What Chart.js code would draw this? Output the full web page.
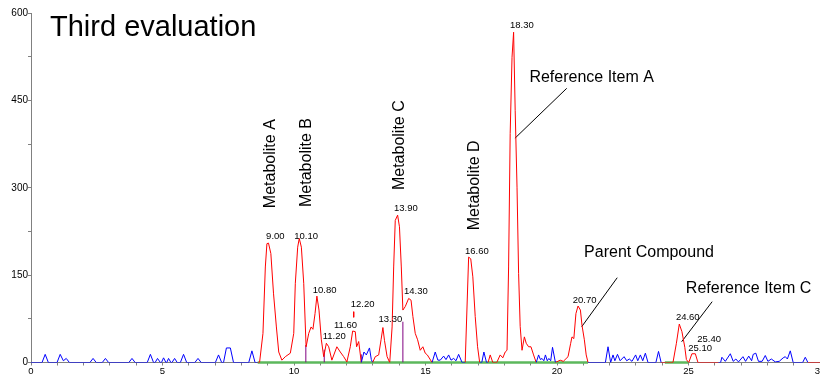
<!DOCTYPE html>
<html><head><meta charset="utf-8">
<script src="https://cdn.jsdelivr.net/npm/chart.js@4.4.1/dist/chart.umd.min.js"></script>
<style>html,body{margin:0;padding:0;background:#fff;}#wrap{width:820px;height:376px;}</style>
</head><body><div id="wrap"><canvas id="c" width="820" height="376"></canvas></div>
<script>
// ---- data (time in min, counts) ----
const times = [
  0,0.42,0.54,0.66,0.99,1.11,1.23,1.34,1.46,2.24,2.36,2.48,2.71,2.83,2.95,
  3.72,3.84,3.96,4.42,4.54,4.66,4.72,4.81,4.92,4.96,5.04,5.13,5.16,5.23,5.32,5.36,5.46,5.56,5.68,5.80,5.92,
  6.23,6.35,6.47,7.01,7.13,7.25,7.32,7.43,7.58,7.70,8.28,8.40,8.52,8.62,
  8.69,8.82,8.91,8.97,9.03,9.12,9.22,9.33,9.42,9.54,9.67,9.86,9.99,10.05,10.14,10.20,10.28,10.37,10.46,
  10.56,10.65,10.72,10.80,10.87,10.95,11.04,11.13,11.23,11.32,11.44,11.63,11.76,11.89,12.01,12.14,12.23,12.33,12.38,12.46,12.56,
  12.66,12.75,12.87,12.94,12.99,
  13.09,13.22,13.31,13.38,13.44,13.54,13.64,13.73,13.79,13.85,13.94,14.01,14.08,14.14,14.23,
  14.36,14.45,14.52,14.61,14.70,14.80,14.90,14.99,15.07,15.25,
  15.37,15.47,15.56,15.69,15.78,15.88,15.97,16.07,16.16,16.26,16.39,16.51,
  16.64,16.72,16.80,16.89,16.98,17.06,
  17.14,17.22,17.32,17.38,
  17.46,17.56,17.71,17.84,17.94,18.03,18.10,18.16,18.22,18.29,
  18.35,18.41,18.48,18.54,18.60,18.67,18.76,18.83,18.92,19.01,19.11,19.21,
  19.30,19.37,19.43,19.50,19.56,19.63,19.69,19.76,19.83,19.94,
  20.12,20.24,20.42,20.52,20.57,20.64,20.72,20.80,20.89,20.95,21.04,21.11,21.18,
  21.84,21.94,22.04,22.13,22.20,22.30,22.40,22.55,22.65,22.75,22.85,22.99,23.07,23.17,23.26,23.36,23.46,23.76,23.86,23.96,
  24.41,24.54,24.65,24.75,24.86,24.92,25.01,25.13,25.26,25.36,26.14,
  26.22,26.27,26.40,26.59,26.70,26.80,26.90,27.07,27.17,27.29,27.40,27.46,27.56,27.66,27.80,27.92,28.02,28.15,28.30,28.45,28.60,28.68,28.76,28.87,28.98,29.34,29.44,29.54,
  30
];
const counts = [
  0,0,14,0,0,14,3,7,0,0,7,0,0,7,0,
  0,7,0,0,14,0,0,7,0,0,8,0,0,7,0,0,7,0,0,14,0,
  0,7,0,0,13,0,0,25,25,0,0,20,0,0,
  0,50,164,204,205,187,119,61,18,4,10,16,50,136,198,213,198,136,27,
  50,61,57,84,114,90,39,10,33,27,4,27,18,10,1,27,54,53,27,36,0,
  18,13,25,5,0,
  10,13,39,60,38,10,0,61,164,244,253,233,164,90,96,
  110,107,79,50,39,21,27,16,13,0,
  18,4,4,11,5,13,4,7,3,14,0,0,
  181,178,147,79,27,0,
  0,18,0,0,
  13,0,0,13,8,18,21,164,393,524,
  567,433,301,153,62,21,44,33,27,27,13,0,
  13,5,7,3,13,3,7,3,26,0,
  4,2,10,33,44,41,84,97,90,64,39,13,0,
  0,27,0,13,3,14,3,10,3,6,2,13,3,13,3,16,0,0,19,0,
  0,33,66,53,26,5,0,15,15,0,0,
  0,9,2,15,2,6,1,10,2,11,3,14,16,2,2,12,2,6,1,2,8,10,6,20,0,0,9,0,
  0
];
// time ranges drawn in red (regions of interest)
const roiRanges = [[8.62,12.56],[12.99,15.25],[16.51,17.06],[17.38,19.21],[19.94,21.18],[23.96,26.14],[29.54,30]];
// integrated baseline (green) ranges
const baselineRanges = [[8.62,21.18],[24.1,25.0]];
// peak separation drop lines
const dropTimes = [10.45, 11.15, 12.56, 14.14];
const dropTops = [30, 22, 14, 70];
// peak retention time labels
const peakLabels = ['9.00','10.10','10.80','11.20','11.60','12.20','13.30','13.90','14.30','16.60','18.30','20.70','24.60','25.40','25.10'];
const compoundNames = ['Reference Item A','Parent Compound','Reference Item C'];
const metaboliteNames = ['Metabolite A','Metabolite B','Metabolite C','Metabolite D'];
const xTicks = {min:0, max:30, step:1, labelEvery:5};
const yTicks = {min:0, max:600, step:75, labelEvery:150};

// ---- annotation anchors (data coordinates) ----
const peakLabelAnchors = [[8.94,212],[10.01,212],[10.71,120],[11.09,41],[11.52,59],[12.16,96],[13.21,70],[13.80,260],[14.18,118],[16.50,187],[18.21,574],[20.60,103],[24.52,73],[25.33,36],[24.99,19]];
const compoundAnchors = [[18.95,482],[21.03,180.6],[24.90,118.8]];
const compoundLeaders = [[[20.37,470.7],[18.40,384.9]],[[22.29,145.6],[20.94,61.5]],[[25.90,104.4],[24.74,35.7]]];
const metaboliteAnchors = [[9.26,265],[10.65,267],[14.20,296],[17.03,227]];
const smallRedLeader = [[12.27,87.2],[12.27,77.6]];

const RED='#ff0000', BLUE='#0000ff', GREEN='#5cb85c', PURPLE='#800080', AXIS='#808080';
const FONT='"Liberation Sans", Arial, Helvetica, sans-serif';
Chart.defaults.font.family = FONT;
Chart.defaults.color = '#000';

const tracePts = times.map((t,i)=>({x:t,y:counts[i]}));
function inRoi(a,b){return roiRanges.some(r=>a>=r[0]-1e-9 && b<=r[1]+1e-9);}
function segs(list){const out=[];list.forEach((s,i)=>{if(i)out.push({x:(s[0][0]+list[i-1][1][0])/2,y:null});out.push({x:s[0][0],y:s[0][1]},{x:s[1][0],y:s[1][1]});});return out;}
const greenPts = segs(baselineRanges.map(r=>[[r[0],0],[r[1],0]]));
const dropPts = segs(dropTimes.map((t,i)=>[[t,0],[t,dropTops[i]]]));
const leaderPts = segs(compoundLeaders);
const redLeaderPts = segs([smallRedLeader]);

const annot = {
  id:'annot',
  afterDatasetsDraw(chart){
    const {ctx, scales:{x,y}} = chart;
    ctx.save();
    ctx.fillStyle='#000';
    ctx.textBaseline='alphabetic';
    ctx.textAlign='left';
    ctx.font='29px '+FONT;
    ctx.fillText('Third evaluation', 50, 36);
    ctx.font='9.5px '+FONT;
    peakLabels.forEach((s,i)=>ctx.fillText(s, x.getPixelForValue(peakLabelAnchors[i][0]), y.getPixelForValue(peakLabelAnchors[i][1])));
    ctx.font='16px '+FONT;
    compoundNames.forEach((s,i)=>ctx.fillText(s, x.getPixelForValue(compoundAnchors[i][0]), y.getPixelForValue(compoundAnchors[i][1])));
    metaboliteNames.forEach((s,i)=>{
      ctx.save();
      ctx.translate(x.getPixelForValue(metaboliteAnchors[i][0]), y.getPixelForValue(metaboliteAnchors[i][1]));
      ctx.rotate(-Math.PI/2);
      ctx.fillText(s,0,0);
      ctx.restore();
    });
    ctx.restore();
  }
};

new Chart(document.getElementById('c'), {
  type:'line',
  data:{datasets:[
    {data:tracePts, borderWidth:1, pointRadius:0, tension:0, borderColor:BLUE,
     segment:{borderColor:c=>inRoi(c.p0.parsed.x,c.p1.parsed.x)?RED:BLUE}},
    {data:redLeaderPts, borderColor:RED, borderWidth:1, pointRadius:0, spanGaps:false},
    {data:dropPts, borderColor:PURPLE, borderWidth:1, pointRadius:0, spanGaps:false},
    {data:leaderPts, borderColor:'#000', borderWidth:1, pointRadius:0, spanGaps:false},
    {data:greenPts, borderColor:GREEN, borderWidth:2.5, pointRadius:0, spanGaps:false, clip:false}
  ]},
  options:{
    responsive:false, animation:false, devicePixelRatio:1,
    layout:{padding:{top:13,left:0,right:0,bottom:0}},
    plugins:{legend:{display:false}, tooltip:{enabled:false}, title:{display:false}},
    scales:{
      x:{type:'linear', min:xTicks.min, max:xTicks.max,
        ticks:{stepSize:xTicks.step, autoSkip:false, maxRotation:0, padding:0, font:{size:9.5},
          callback:v=>(v%xTicks.labelEvery===0?String(v):'')},
        grid:{drawOnChartArea:false, drawTicks:true, tickLength:3, color:AXIS},
        border:{display:true, color:AXIS, width:1},
        afterFit(s){s.height=13.5; s.paddingLeft=0; s.paddingRight=0;}
      },
      y:{min:yTicks.min, max:yTicks.max,
        ticks:{stepSize:yTicks.step, autoSkip:false, padding:0, font:{size:10},
          callback:v=>(v%yTicks.labelEvery===0?String(v):'')},
        grid:{drawOnChartArea:false, drawTicks:true, tickLength:3, color:AXIS},
        border:{display:true, color:AXIS, width:1},
        afterFit(s){s.width=31; s.paddingTop=0; s.paddingBottom=0;}
      }
    }
  },
  plugins:[annot]
});
</script></body></html>
